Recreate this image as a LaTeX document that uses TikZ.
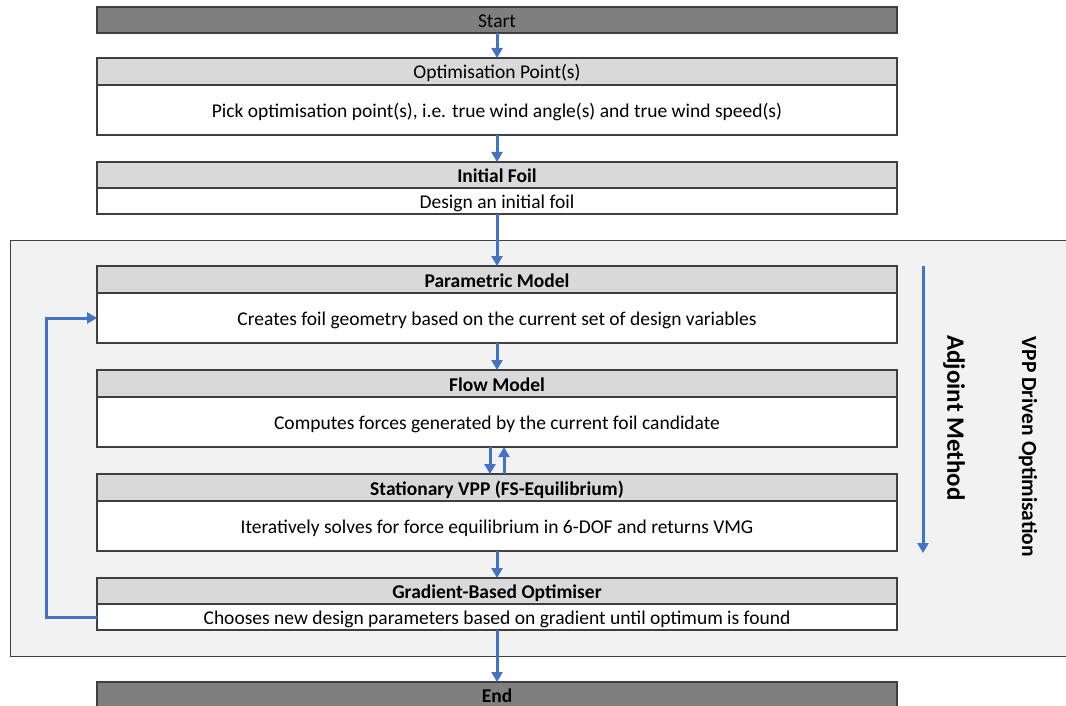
\documentclass[tikz,border=0pt]{standalone}
\usepackage{fontspec}
\setmainfont{Carlito}
\usetikzlibrary{arrows.meta,positioning}
\definecolor{flowblue}{HTML}{4472C4}
\definecolor{boxline}{HTML}{3F3F3F}
\definecolor{termgray}{HTML}{7F7F7F}
\definecolor{headgray}{HTML}{D9D9D9}
\definecolor{loopgray}{HTML}{F2F2F2}
\tikzset{
  boxbase/.style={draw=boxline, line width=1.3pt, minimum width=800pt, inner sep=0pt, outer sep=0pt, text height=15pt, text depth=0pt, font=\fontsize{19.5}{23}\selectfont},
  boldbox/.style={font=\fontsize{19.5}{23}\selectfont\bfseries},
  term/.style={boxbase, fill=termgray, minimum height=26pt},
  head/.style={boxbase, fill=headgray, minimum height=27pt},
  body/.style={boxbase, fill=white},
  flow/.style={draw=flowblue, line width=3pt, -{Triangle[width=11pt,length=10pt]}},
  sidelabel/.style={rotate=-90, font=\fontsize{25}{30}\selectfont\bfseries}
}
\begin{document}
\begin{tikzpicture}[x=1pt,y=-1pt]
    \useasboundingbox (0,0) rectangle (1066,706);
    % loop region
    \node[draw=boxline, fill=loopgray, line width=1.2pt, minimum width=1070pt, minimum height=416pt, anchor=north west, inner sep=0pt] (loop) at (10,240) {};
    % terminals and steps
    \node[term, anchor=north] (start) at (497,7) {Start};
    \node[head, anchor=north] (opthead) at (497,58) {Optimisation Point(s)};
    \node[body, minimum height=50pt, below=0pt of opthead] (optbody) {Pick optimisation point(s), i.e. true wind angle(s) and true wind speed(s)};
    \node[head, boldbox, minimum height=26pt, anchor=north] (foilhead) at (497,162) {Initial Foil};
    \node[body, minimum height=26pt, below=0pt of foilhead] (foilbody) {Design an initial foil};
    \node[head, boldbox, anchor=north] (parahead) at (497,266) {Parametric Model};
    \node[body, minimum height=50pt, below=0pt of parahead] (parabody) {Creates foil geometry based on the current set of design variables};
    \node[head, boldbox, anchor=north] (flowhead) at (497,370) {Flow Model};
    \node[body, minimum height=50pt, below=0pt of flowhead] (flowbody) {Computes forces generated by the current foil candidate};
    \node[head, boldbox, anchor=north] (vpphead) at (497,474) {Stationary VPP (FS-Equilibrium)};
    \node[body, minimum height=50pt, below=0pt of vpphead] (vppbody) {Iteratively solves for force equilibrium in 6-DOF and returns VMG};
    \node[head, boldbox, minimum height=26pt, anchor=north] (gradhead) at (497,578) {Gradient-Based Optimiser};
    \node[body, minimum height=26pt, below=0pt of gradhead] (gradbody) {Chooses new design parameters based on gradient until optimum is found};
    \node[term, boldbox, anchor=north] (end) at (497,682) {End};
    % connectors
    \draw[flow] (start) -- (opthead);
    \draw[flow] (optbody) -- (foilhead);
    \draw[flow] (foilbody) -- (parahead);
    \draw[flow] (parabody) -- (flowhead);
    \draw[flow] ([xshift=-7pt]flowbody.south) -- ([xshift=-7pt]vpphead.north);
    \draw[flow] ([xshift=7pt]vpphead.north) -- ([xshift=7pt]flowbody.south);
    \draw[flow] (vppbody) -- (gradhead);
    \draw[flow] (gradbody) -- (end);
    \draw[flow] (gradbody.west) -- ++(-51,0) |- (parabody.west);
    % side labels
    \coordinate (adjtop) at (923,266);
    \coordinate (adjbot) at (923,553);
    \draw[flow] (adjtop) -- (adjbot);
    \node[sidelabel] (adjoint) at (954,418) {Adjoint Method};
    \node[sidelabel, font=\fontsize{21.5}{26}\selectfont\bfseries] (vppdriven) at (1028,447) {VPP Driven Optimisation};
\end{tikzpicture}
\end{document}
